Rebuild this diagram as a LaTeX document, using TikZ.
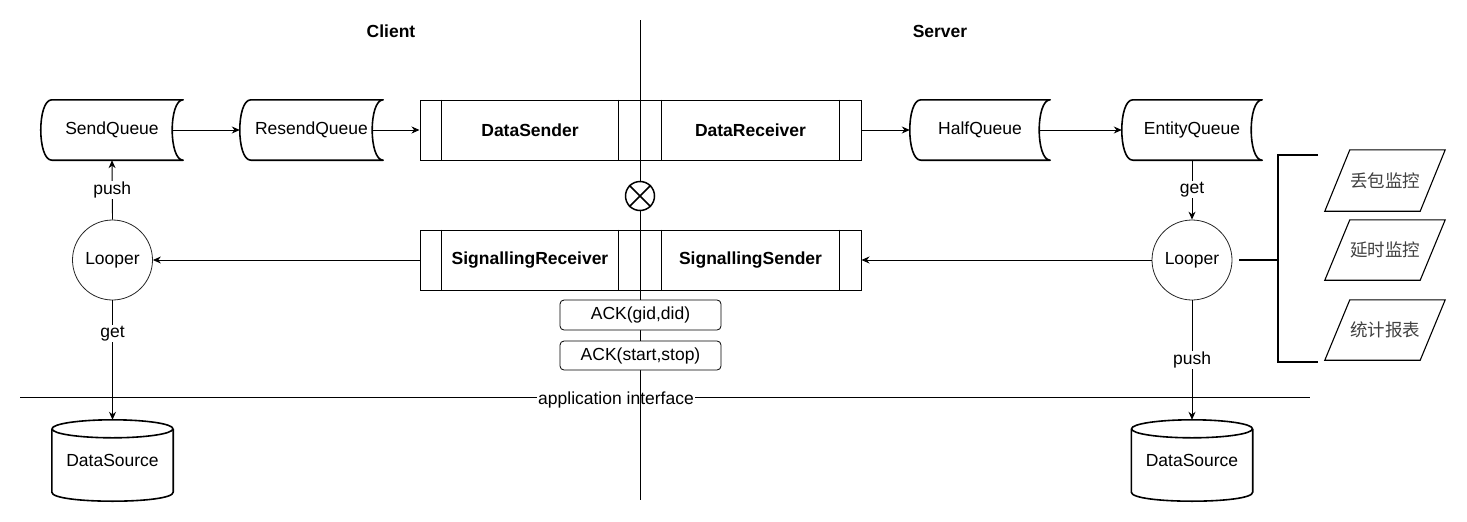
\documentclass[tikz,border=0pt]{standalone}
\usepackage{fontspec}
\setmainfont{Liberation Sans}
\newfontfamily\cjk{Noto Sans CJK SC}
\usetikzlibrary{arrows.meta}
\newcommand\bodyfont{\fontsize{17.5}{21}\selectfont}
\tikzset{
  queue/.style={minimum width=142pt, minimum height=60pt, inner sep=0pt},
  queueline/.style={line width=1.6pt, line join=round},
  proc/.style={draw, line width=1pt, minimum width=220pt, minimum height=60pt, inner sep=0pt, font=\bodyfont\bfseries},
  looper/.style={circle, draw=black!85, line width=0.8pt, minimum size=80pt, inner sep=0pt},
  ack/.style={draw, rounded corners=4pt, line width=0.8pt, fill=white, minimum width=161pt, minimum height=30pt, inner sep=0pt},
  drumbox/.style={minimum width=121pt, minimum height=81pt, inner sep=0pt},
  reportbox/.style={minimum width=95pt, minimum height=61pt, inner sep=0pt, text=black!75, font=\bodyfont\cjk},
  flow/.style={line width=0.9pt, -{Stealth[length=8pt,width=7pt]}},
  lbl/.style={fill=white, inner sep=1pt},
  bracket/.style={line width=2.2pt},
}
\newcommand\queueshape[1]{%
  \draw[queueline] ([xshift=11pt]#1.north west) -- (#1.north east)
    .. controls ([xshift=-14.7pt]#1.north east) and ([xshift=-14.7pt]#1.south east) .. (#1.south east)
    -- ([xshift=11pt]#1.south west)
    .. controls ([xshift=-3.7pt]#1.south west) and ([xshift=-3.7pt]#1.north west) .. ([xshift=11pt]#1.north west) -- cycle;}
\newcommand\procbars[1]{%
  \draw[line width=1pt] ([xshift=22pt]#1.north west) -- ([xshift=22pt]#1.south west)
    ([xshift=-22pt]#1.north east) -- ([xshift=-22pt]#1.south east);}
\newcommand\drumshape[1]{%
  \draw[queueline] ([yshift=-9pt]#1.north) ellipse [x radius=60.5pt, y radius=9pt];
  \draw[queueline] ([yshift=-9pt]#1.north west) -- ([yshift=9pt]#1.south west)
    .. controls ([yshift=-3pt]#1.south west) and ([yshift=-3pt]#1.south east) .. ([yshift=9pt]#1.south east)
    -- ([yshift=-9pt]#1.north east);}
\newcommand\reportshape[1]{%
  \draw[line width=1.1pt] ([xshift=12.5pt]#1.north west) -- ([xshift=12.5pt]#1.north east)
    -- ([xshift=-12.5pt]#1.south east) -- ([xshift=-12.5pt]#1.south west) -- cycle;}
\begin{document}
\begin{tikzpicture}[x=1pt, y=-1pt, font=\bodyfont]
        \useasboundingbox (0,0) rectangle (1467,522);

        \node[font=\bodyfont\bfseries] (client) at (391,31) {Client};
        \node[font=\bodyfont\bfseries] (server) at (940,31) {Server};

        \coordinate (apil) at (20,397);
        \coordinate (apir) at (1310,397);
        \draw[line width=0.9pt] (apil) -- (apir);
        \node[lbl] (api) at (616,400) {application interface};

        \coordinate (divtop) at (640,20);
        \coordinate (divbot) at (640,500);
        \draw[line width=0.9pt] (divtop) -- (divbot);

        \node[queue] (sq) at (112,130) {SendQueue};
        \node[queue, minimum width=143pt] (rq) at (311.5,130) {ResendQueue};
        \node[queue, minimum width=140pt] (hq) at (980,130) {HalfQueue};
        \node[queue, minimum width=140pt] (eq) at (1192,130) {EntityQueue};
        \queueshape{sq}
        \queueshape{rq}
        \queueshape{hq}
        \queueshape{eq}

        \node[proc] (ds) at (530,130) {DataSender};
        \node[proc, minimum width=221pt] (dr) at (750.5,130) {DataReceiver};
        \node[proc] (sr) at (530,260) {SignallingReceiver};
        \node[proc, minimum width=221pt] (ss) at (750.5,260) {SignallingSender};
        \procbars{ds}
        \procbars{dr}
        \procbars{sr}
        \procbars{ss}

        \node[circle, draw, fill=white, line width=1.5pt, minimum size=29pt, inner sep=0pt] (xc) at (640,196) {};
        \draw[line width=1.5pt] (xc.north west) -- (xc.south east) (xc.north east) -- (xc.south west);

        \node[ack] (ackg) at (640.5,315) {ACK(gid,did)};
        \node[ack, minimum height=29pt] (acks) at (640.5,355.5) {ACK(start,stop)};

        \node[looper] (lpl) at (112.5,260) {Looper};
        \node[looper] (lpr) at (1192,260) {Looper};

        \node[drumbox] (dsl) at (112.5,460.5) {DataSource};
        \node[drumbox] (dsr) at (1192,460.5) {DataSource};
        \drumshape{dsl}
        \drumshape{dsr}

        \node[reportbox] (loss) at (1385,180.5) {丢包监控};
        \node[reportbox, minimum height=60pt] (delay) at (1385,250) {延时监控};
        \node[reportbox, minimum height=60pt] (stat) at (1385,330) {统计报表};
        \reportshape{loss}
        \reportshape{delay}
        \reportshape{stat}

        \draw[flow] ([xshift=-11pt]sq.east) -- (rq.west);
        \draw[flow] ([xshift=-11pt]rq.east) -- (ds.west);
        \draw[flow] (dr.east) -- (hq.west);
        \draw[flow] ([xshift=-11pt]hq.east) -- (eq.west);
        \draw[flow] (lpr.west) -- (ss.east);
        \draw[flow] (sr.west) -- (lpl.east);
        \draw[flow] (lpl.north) -- node[lbl] {push} (sq.south);
        \draw[flow] (lpl.south) -- node[lbl, pos=0.275] {get} (dsl.north);
        \draw[flow] (eq.south) -- node[lbl] {get} (lpr.north);
        \draw[flow] (lpr.south) -- node[lbl] {push} (dsr.north);

        \coordinate (brtop) at (1318,155);
        \coordinate (brspine) at (1278,260);
        \coordinate (brbot) at (1318,362);
        \draw[bracket] (brtop) -| (brspine) |- (brbot);
        \draw[bracket] ([xshift=7pt]lpr.east) -- (brspine);
      \end{tikzpicture}
\end{document}
